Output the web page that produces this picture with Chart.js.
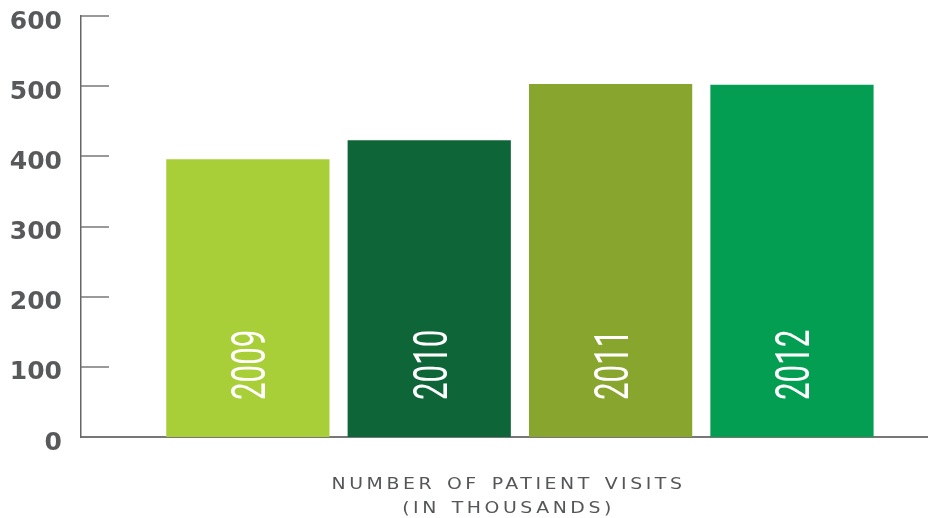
<!DOCTYPE html>
<html>
<head>
<meta charset="utf-8">
<script src="https://cdn.jsdelivr.net/npm/chart.js@4/dist/chart.umd.min.js"></script>
<style>
  html, body { margin: 0; padding: 0; background: #fff; }
  .chartRow { width: 928px; height: 518px; }
</style>
</head>
<body>
<div class="chartRow"><canvas id="myChart"></canvas></div>
<script>
const years = ['2009', '2010', '2011', '2012'];
const visits = [396, 423, 503, 502];
const barColors = ['#a9cf38', '#0e6538', '#88a52e', '#039e51'];
const yTicks = [0, 100, 200, 300, 400, 500, 600];
const axisTitle = ['NUMBER OF PATIENT VISITS', '(IN THOUSANDS)'];

// short tick marks inside the plot, year labels in the bars, title under the chart
const decorations = {
  id: 'decorations',
  beforeDatasetsDraw(chart) {
    const ctx = chart.ctx;
    const y = chart.scales.y;
    const area = chart.chartArea;
    ctx.save();
    ctx.strokeStyle = '#777';
    ctx.lineWidth = 1.5;
    y.ticks.forEach(function (t) {
      if (t.value === 0) return;
      const py = Math.round(y.getPixelForValue(t.value));
      ctx.beginPath();
      ctx.moveTo(area.left, py);
      ctx.lineTo(area.left + 28, py);
      ctx.stroke();
    });
    ctx.restore();
  },
  afterDatasetsDraw(chart) {
    const ctx = chart.ctx;
    const meta = chart.getDatasetMeta(0);
    ctx.save();
    ctx.fillStyle = '#fff';
    ctx.font = '400 49px Roboto';
    ctx.textAlign = 'left';
    ctx.textBaseline = 'alphabetic';
    meta.data.forEach(function (bar, i) {
      ctx.save();
      ctx.translate(bar.x, bar.base - 37);
      ctx.rotate(-Math.PI / 2);
      ctx.scale(0.64, 1);
      ctx.fillText(years[i], 0, 17.5);
      ctx.restore();
    });
    ctx.restore();
  },
  afterDraw(chart) {
    const ctx = chart.ctx;
    const area = chart.chartArea;
    const cx = (area.left + area.right) / 2;
    ctx.save();
    ctx.translate(cx + 4, 0);
    ctx.scale(1.18, 1);
    ctx.fillStyle = '#555658';
    ctx.font = '16px "DejaVu Sans"';
    ctx.letterSpacing = '3px';
    ctx.wordSpacing = '2px';
    ctx.textAlign = 'center';
    ctx.textBaseline = 'alphabetic';
    ctx.fillText(axisTitle[0], 0, chart.height - 29);
    ctx.fillText(axisTitle[1], 0, chart.height - 5);
    ctx.restore();
  }
};

const ctx = document.getElementById('myChart').getContext('2d');
new Chart(ctx, {
  type: 'bar',
  data: {
    datasets: [{
      data: years.map(function (yr, i) { return { x: Number(yr), y: visits[i] }; }),
      backgroundColor: barColors,
      borderWidth: 0,
      barPercentage: 0.9,
      categoryPercentage: 1
    }]
  },
  plugins: [decorations],
  options: {
    animation: false,
    events: [],
    responsive: true,
    maintainAspectRatio: false,
    layout: {
      padding: { left: 10, top: 16, right: 0, bottom: 81 }
    },
    plugins: {
      legend: { display: false },
      tooltip: { enabled: false }
    },
    scales: {
      x: {
        type: 'linear',
        offset: false,
        min: 2008.08,
        max: 2012.75,
        afterBuildTicks: function (scale) {
          scale.ticks = years.map(function (yr) { return { value: Number(yr) }; });
        },
        grid: { display: false, drawTicks: false },
        ticks: { display: false },
        border: { color: '#777', width: 2 }
      },
      y: {
        min: yTicks[0],
        max: yTicks[yTicks.length - 1],
        afterBuildTicks: function (scale) {
          scale.ticks = yTicks.map(function (v) { return { value: v }; });
        },
        afterFit: function (scale) {
          scale.width = 71;
          scale.paddingTop = 0;
          scale.paddingBottom = 0;
        },
        grid: { display: false, drawTicks: false },
        border: { color: '#666', width: 1.5 },
        ticks: {
          color: '#58595b',
          padding: 19,
          labelOffset: 6,
          font: { family: "'DejaVu Sans'", weight: 'bold', size: 25 }
        }
      }
    }
  }
});
</script>
</body>
</html>
